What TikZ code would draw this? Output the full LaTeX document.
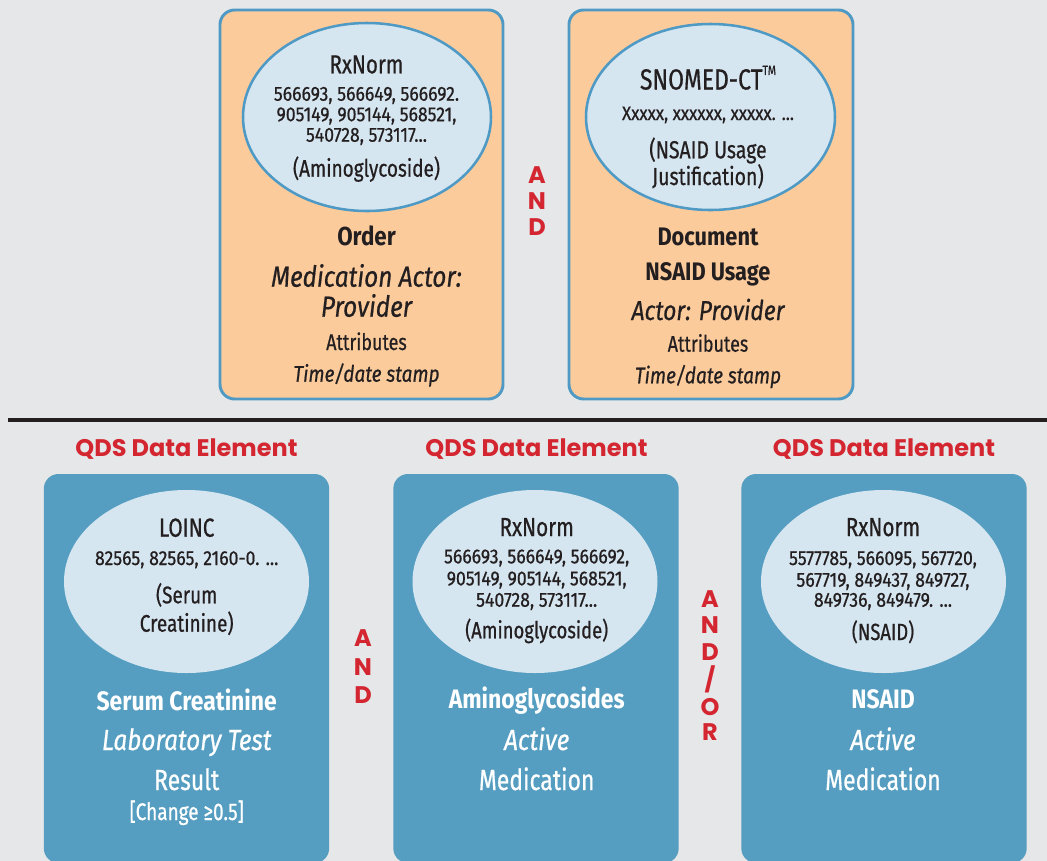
\documentclass[tikz,border=0pt]{standalone}
\usepackage{fontspec}
\usetikzlibrary{shapes.geometric}
\newfontfamily\cond[FakeStretch=0.79, FakeBold=0.6]{Fira Sans}
\newfontfamily\condn[FakeStretch=0.87, FakeBold=0.6]{Fira Sans}
\newfontfamily\condi[FakeStretch=0.84, FakeBold=0.6]{Fira Sans}
\newfontfamily\condb[FakeStretch=0.86]{Fira Sans}
\newfontfamily\head{Poppins}
\definecolor{bgc}{HTML}{E6E7E8}
\definecolor{orng}{HTML}{FCCB9C}
\definecolor{bord}{HTML}{4E9AC4}
\definecolor{ellf}{HTML}{D6E6F1}
\definecolor{bbox}{HTML}{559EC1}
\definecolor{redc}{HTML}{D42630}
\definecolor{ink}{HTML}{231F20}
\newcommand\myfs[1]{\fontsize{#1}{#1}\selectfont}
\begin{document}
\begin{tikzpicture}[x=0.75pt,y=-0.75pt,
  obox/.style={draw=bord, line width=2.2pt, fill=orng, rounded corners=11pt, minimum height=291.75pt, inner sep=0pt},
  bluebox/.style={fill=bbox, rounded corners=11pt, minimum width=214pt, minimum height=291.75pt, inner sep=0pt},
  oell/.style={ellipse, draw=bord, line width=1.9pt, fill=ellf, inner sep=0pt},
  bell/.style={ellipse, fill=ellf, inner sep=0pt, minimum width=183.75pt, minimum height=137.25pt},
  t/.style={anchor=base, inner sep=0pt, text=ink},
  w/.style={anchor=base, inner sep=0pt, text=white},
  hd/.style={anchor=base, inner sep=0pt, text=redc, font=\head\bfseries\myfs{18}},
  lt/.style={anchor=base, inner sep=0pt, text=redc, font=\head\bfseries\myfs{18}}
]
\useasboundingbox (0,0) rectangle (1047,861);
\fill[bgc] (0,0) rectangle (1047,861);

% ---------- top boxes ----------
\node[obox, minimum width=212.25pt] (box1) at (361.5,204.5) {};
\node[obox, minimum width=213pt] (box2) at (711,204.5) {};
\node[oell, minimum width=186pt, minimum height=141pt] (e1) at (367,117) {};
\node[oell, minimum width=186.75pt, minimum height=139.5pt] (e2) at (710.5,117) {};

% box 1 text
\node[t, font=\cond\myfs{19.5}] (r1) at (366.5,73.3) {RxNorm};
\node[t, font=\condn\myfs{15.2}] (r1a) at (366.5,100.7) {566693, 566649, 566692.};
\node[t, font=\condn\myfs{15.2}] (r1b) at (366.5,121.2) {905149, 905144, 568521,};
\node[t, font=\condn\myfs{15.2}] (r1c) at (366.5,141.7) {540728, 573117...};
\node[t, font=\cond\myfs{18}] (r1d) at (366.5,176.7) {(Aminoglycoside)};
\node[t, font=\condb\bfseries\myfs{19.5}] (o1) at (366.5,245) {Order};
\node[t, font=\condi\itshape\myfs{21.8}] (o2) at (366.5,286.7) {Medication Actor:};
\node[t, font=\condi\itshape\myfs{21.8}] (o3) at (366.5,316.7) {Provider};
\node[t, font=\cond\myfs{17}] (o4) at (366.5,350) {Attributes};
\node[t, font=\condi\itshape\myfs{17}] (o5) at (366.5,381.7) {Time/date stamp};

% box 2 text
\node[t, font=\cond\myfs{21.8}] (s1) at (708,89.5) {SNOMED-CT\raisebox{0.5em}{\myfs{10}TM}};
\node[t, font=\condn\myfs{14.6}] (s2) at (708,120) {Xxxxx, xxxxxx, xxxxx. ...};
\node[t, font=\cond\myfs{18.5}] (s3) at (708,158.3) {(NSAID Usage};
\node[t, font=\cond\myfs{18.5}] (s4) at (708,185) {Justification)};
\node[t, font=\condb\bfseries\myfs{19}] (d1) at (708,245) {Document};
\node[t, font=\condb\bfseries\myfs{19}] (d2) at (708,280) {NSAID Usage};
\node[t, font=\condi\itshape\myfs{20.5}] (d3) at (708,320) {Actor: Provider};
\node[t, font=\cond\myfs{17}] (d4) at (708,351.7) {Attributes};
\node[t, font=\condi\itshape\myfs{17}] (d5) at (708,383.3) {Time/date stamp};

% top AND
\node[lt] (ta1) at (537,183.3) {A};
\node[lt] (ta2) at (537,209.3) {N};
\node[lt] (ta3) at (537,235) {D};

% ---------- divider ----------
\coordinate (l1) at (8,420);
\coordinate (l2) at (1047,420);
\draw[ink, line width=3.6pt] (l1) -- (l2);

% ---------- headers ----------
\node[hd] (h1) at (186.5,456.7) {QDS Data Element};
\node[hd] (h2) at (536.5,456.7) {QDS Data Element};
\node[hd] (h3) at (884,456.7) {QDS Data Element};

% ---------- bottom boxes ----------
\node[bluebox] (b1) at (186.5,668.5) {};
\node[bluebox] (b2) at (536,668.5) {};
\node[bluebox] (b3) at (884,668.5) {};
\node[bell] (be1) at (186.5,581.5) {};
\node[bell] (be2) at (535,581.5) {};
\node[bell] (be3) at (883.5,581.5) {};

% bottom box 1
\node[t, font=\cond\myfs{19.6}] (q1) at (186.7,536.7) {LOINC};
\node[t, font=\condn\myfs{15.2}] (q2) at (186.7,565) {82565, 82565, 2160-0. ...};
\node[t, font=\cond\myfs{18}] (q3) at (186.7,603.3) {(Serum};
\node[t, font=\cond\myfs{18}] (q4) at (186.7,631.7) {Creatinine)};
\node[w, font=\condb\bfseries\myfs{20}] (q5) at (186.7,710) {Serum Creatinine};
\node[w, font=\condi\itshape\myfs{21.8}] (q6) at (186.7,750) {Laboratory Test};
\node[w, font=\cond\myfs{21.8}] (q7) at (186.7,790) {Result};
\node[w, font=\cond\myfs{18}] (q8) at (186.7,820) {[Change ≥0.5]};

% bottom box 2
\node[t, font=\cond\myfs{19.6}] (m1) at (536.7,536) {RxNorm};
\node[t, font=\condn\myfs{15.2}] (m2) at (536.7,563.3) {566693, 566649, 566692,};
\node[t, font=\condn\myfs{15.2}] (m3) at (536.7,585.3) {905149, 905144, 568521,};
\node[t, font=\condn\myfs{15.2}] (m4) at (536.7,606.7) {540728, 573117...};
\node[t, font=\cond\myfs{17.5}] (m5) at (536.7,638.3) {(Aminoglycoside)};
\node[w, font=\condb\bfseries\myfs{20}] (m6) at (536.7,708.3) {Aminoglycosides};
\node[w, font=\condi\itshape\myfs{21.8}] (m7) at (536.7,750) {Active};
\node[w, font=\cond\myfs{21.8}] (m8) at (536.7,790) {Medication};

% bottom box 3
\node[t, font=\cond\myfs{19.6}] (k1) at (883,536) {RxNorm};
\node[t, font=\condn\myfs{15.2}] (k2) at (883,565) {5577785, 566095, 567720,};
\node[t, font=\condn\myfs{15.2}] (k3) at (883,586.7) {567719, 849437, 849727,};
\node[t, font=\condn\myfs{15.2}] (k4) at (883,606.7) {849736, 849479. ...};
\node[t, font=\cond\myfs{17.5}] (k5) at (883,640) {(NSAID)};
\node[w, font=\condb\bfseries\myfs{20}] (k6) at (883,708.3) {NSAID};
\node[w, font=\condi\itshape\myfs{21.8}] (k7) at (883,750) {Active};
\node[w, font=\cond\myfs{21.8}] (k8) at (883,790) {Medication};

% bottom AND
\node[lt] (ba1) at (363,646.7) {A};
\node[lt] (ba2) at (363,675) {N};
\node[lt] (ba3) at (363,703.3) {D};

% AND/OR
\node[lt] (ao1) at (710,607.3) {A};
\node[lt] (ao2) at (710,633.3) {N};
\node[lt] (ao3) at (710,660) {D};
\node[lt] (ao4) at (710,688) {/};
\node[lt] (ao5) at (710,715) {O};
\node[lt] (ao6) at (710,740) {R};
\end{tikzpicture}
\end{document}
